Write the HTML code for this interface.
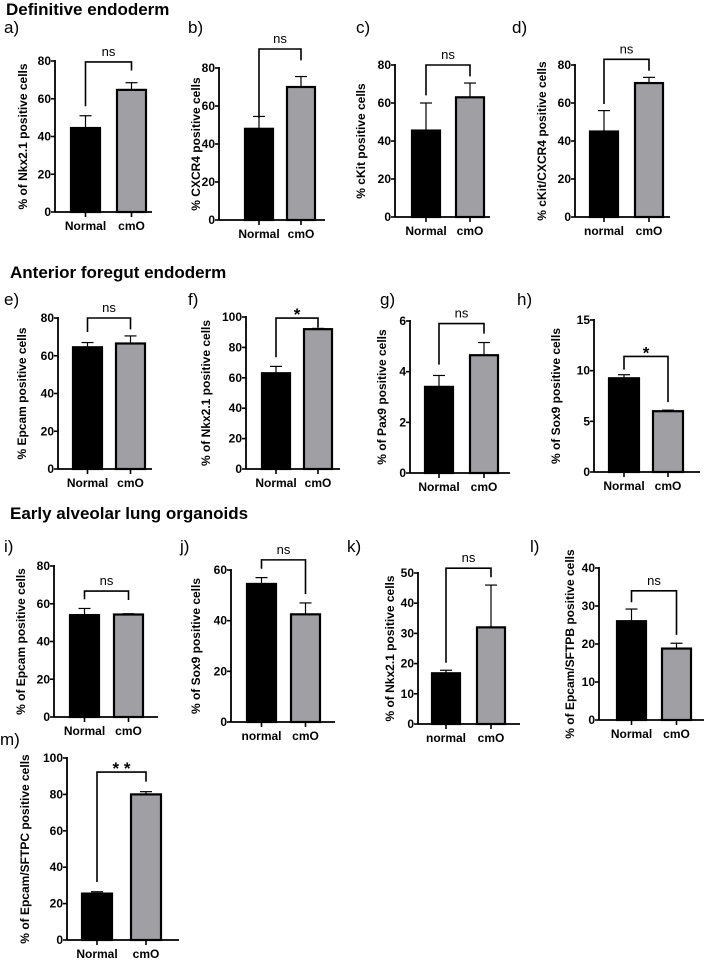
<!DOCTYPE html>
<html><head><meta charset="utf-8"><style>
body{margin:0;background:#fff;}
svg{display:block;font-family:"Liberation Sans",sans-serif;}
.t{font-weight:bold;font-size:12px;}
</style></head><body>
<svg id="fig" width="707" height="963" viewBox="0 0 707 963">
<text x="6" y="15" font-size="17" font-weight="bold">Definitive endoderm</text>
<text x="10" y="278" font-size="17" font-weight="bold">Anterior foregut endoderm</text>
<text x="10" y="519" font-size="17" font-weight="bold">Early alveolar lung organoids</text>
</svg>
<script>
// ---- data ----
const panelIds = ["a","b","c","d","e","f","g","h","i","j","k","l","m"];
const normalMeans = [44.5,48,45.5,45,64.5,63,3.4,9.25,54,54.5,16.8,26,25.5];
const normalErrs  = [51,54.5,60,56,67,67.5,3.85,9.6,57.5,57,17.8,29.2,26.5];
const cmoMeans    = [64.7,70,63,70.5,66.5,92,4.65,6.0,54.3,42.5,32,18.8,80];
const cmoErrs     = [68.5,75.5,70.5,73.5,70.5,92.5,5.15,6.1,54.7,47,46,20.2,81.5];
const yMaxes      = [80,80,80,80,80,100,6,15,80,60,50,40,100];
const yStepVals   = [20,20,20,20,20,20,2,5,20,20,10,10,20];
const bracketTops = [79.5,90,80,83,80,99.3,5.9,11.4,66.7,64,51.6,34,92.3];
const leftLegs    = [56,53.7,64,59.5,72.6,73.5,4.28,10.1,62.4,60.5,20.3,31,31.9];
const rightLegs   = [75,84,74,77,74,93,5.5,6.9,62,50.5,48.6,22.4,87];
const sigLabels   = ["ns","ns","ns","ns","ns","*","ns","*","ns","ns","ns","ns","**"];
const catNormal   = ["Normal","Normal","Normal","normal","Normal","Normal","Normal","Normal","Normal","normal","normal","Normal","Normal"];
const catCmo      = ["cmO","cmO","cmO","cmO","cmO","cmO","cmO","cmO","cmO","cmO","cmO","cmO","cmO"];
const yTitles     = ["% of Nkx2.1 positive cells","% CXCR4 positive cells","% cKit positive cells","% cKit/CXCR4 positive cells",
  "% Epcam positive cells","% of Nkx2.1 positive cells","% of Pax9 positive cells","% of Sox9 positive cells",
  "% of Epcam positive cells","% of Sox9 positive cells","% of Nkx2.1 positive cells","% of Epcam/SFTPB positive cells","% of Epcam/SFTPC positive cells"];

// ---- layout (pixels) ----
// [axisX, y0, yTopPx, bar1Left, bar2Left, barW, xEnd, panelLabelX, panelLabelY, yTitleX]
const layout = [
 [55,212,61,71,117,29,152,4,33,24],
 [219,220,68,245,287,28,325,188,33,197],
 [395,217,65,412,456,28,490,356,33,362],
 [575,217,65,590,635,28,670,512,33,543],
 [58,469,318,73,116,29,152,4,305,23],
 [246,469,317,262,304,28,340,188,305,207],
 [410,473,321,425,470,28,510,380,305,383],
 [594,472,320,609,653,30,700,517,305,557],
 [54,717,566,70,114,29,158,4,552,22],
 [231,722,570,247,291,29,335,180,552,197],
 [418,724,573,432,477,28,520,347,552,391],
 [599,720,568,617,662,29,704,530,552,571],
 [67,940,758,82,131,30,179,0,745,26]
];

const NS='http://www.w3.org/2000/svg';
const svg=document.getElementById('fig');
function mk(tag,attrs,parent){const e=document.createElementNS(NS,tag);for(const k in attrs)e.setAttribute(k,attrs[k]);(parent||svg).appendChild(e);return e;}

panelIds.forEach((id,i)=>{
  const [ax,y0,yt,b1,b2,bw,xe,plx,ply,ytx]=layout[i];
  const yScale=v=>y0-(v/yMaxes[i])*(y0-yt);
  const g=mk('g',{});
  
  
  const pl=mk('text',{x:plx,y:ply,'font-size':17},g);pl.textContent=id+')';
  
  
  const yaxis=mk('line',{x1:ax,y1:yt-1,x2:ax,y2:y0,stroke:'#000','stroke-width':1.8},g);
  
  
  for(let v=0;v<=yMaxes[i]+1e-9;v+=yStepVals[i]){
    const y=yScale(v);
    mk('line',{x1:ax-4,y1:y,x2:ax,y2:y,stroke:'#000','stroke-width':1.6},g);
    const tl=mk('text',{x:ax-4,y:y+4,'text-anchor':'end',class:'t'},g);tl.textContent=String(v);
    
    
  }
  const xaxis=mk('line',{x1:ax,y1:y0,x2:xe,y2:y0,stroke:'#000','stroke-width':1.8},g);
  
  
  const bars=[[b1,normalMeans[i],normalErrs[i],'#000',catNormal[i],'normal'],[b2,cmoMeans[i],cmoErrs[i],'#a0a0a4',catCmo[i],'cmo']];
  bars.forEach(([bx,m,e,fill,cat,nm])=>{
    const cx=bx+bw/2, ym=yScale(m), ye=yScale(e);
    mk('line',{x1:cx,y1:ye,x2:cx,y2:ym,stroke:'#000','stroke-width':1.2},g);
    mk('line',{x1:cx-6,y1:ye,x2:cx+6,y2:ye,stroke:'#000','stroke-width':1.2},g);
    const r=mk('rect',{x:bx,y:ym,width:bw,height:y0-ym,fill:fill,stroke:'#000','stroke-width':2.2},g);
    
    
    mk('line',{x1:cx,y1:y0,x2:cx,y2:y0+5,stroke:'#000','stroke-width':1.6},g);
    const ct=mk('text',{x:cx,y:y0+18,'text-anchor':'middle',class:'t'},g);ct.textContent=cat;
    
    
  });
  const c1=b1+bw/2,c2=b2+bw/2,byt=yScale(bracketTops[i]);
  const br=mk('path',{d:`M${c1},${yScale(leftLegs[i])}V${byt}H${c2}V${yScale(rightLegs[i])}`,fill:'none',stroke:'#000','stroke-width':1.6},g);
  
  
  const sig=sigLabels[i];
  const st=mk('text',{x:(c1+c2)/2,y:byt-(sig==='ns'?6:-2),'text-anchor':'middle','font-size':sig==='ns'?13:17,'font-weight':sig==='ns'?'normal':'bold'},g);
  st.textContent=sig==='**'?'* *':sig;
  
  
  const ymid=(y0+yt)/2;
  const tt=mk('text',{x:ytx,y:ymid,'text-anchor':'middle',transform:`rotate(-90 ${ytx} ${ymid})`,'font-size':12,'font-weight':'bold','dominant-baseline':'middle'},g);
  tt.textContent=yTitles[i];
  
  
});
</script>
</body></html>
